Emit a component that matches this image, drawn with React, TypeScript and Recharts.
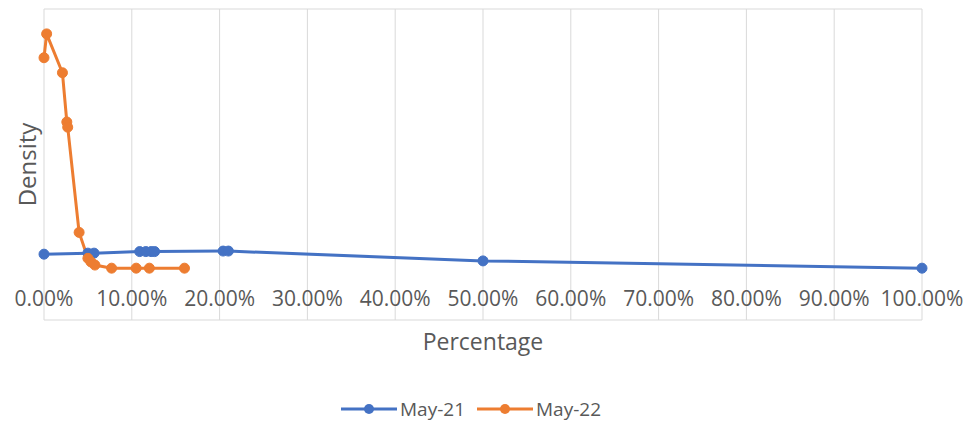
import { CartesianGrid, Label, Legend, Line, LineChart, XAxis, YAxis } from 'recharts';

const BLUE = '#4472C4';
const ORANGE = '#ED7D31';
const TEXT = '#595959';
const GRID = '#D9D9D9';
const FONT = '"Open Sans", "Noto Sans", sans-serif';

// x tick positions (share of 1) and y grid steps
const xTicks = [0, 0.1, 0.2, 0.3, 0.4, 0.5, 0.6, 0.7, 0.8, 0.9, 1];
const yTicks = [-10, 0, 10, 20, 30, 40, 50];

// May-21 series
const may21Pct = [0, 0.05, 0.057, 0.109, 0.116, 0.122, 0.126, 0.204, 0.21, 0.5, 1];
const may21Density = [2.7, 2.9, 2.9, 3.2, 3.2, 3.2, 3.2, 3.3, 3.3, 1.4, 0];

// May-22 series
const may22Pct = [0, 0.003, 0.021, 0.026, 0.027, 0.04, 0.05, 0.0535, 0.058, 0.077, 0.105, 0.12, 0.16];
const may22Density = [40.6, 45.2, 37.7, 28.2, 27.2, 6.9, 1.9, 1.2, 0.6, 0, 0, 0, 0];

const may21 = may21Pct.map((x, i) => ({ x, y: may21Density[i] }));
const may22 = may22Pct.map((x, i) => ({ x, y: may22Density[i] }));

const PctTick = (props: any) => {
  const { x, y, payload } = props;
  return (
    <text x={x} y={y} dy={-22} textAnchor="middle" fill={TEXT} fontSize={21} fontFamily={FONT}>
      {(payload.value * 100).toFixed(2)}%
    </text>
  );
};

const LegendContent = (props: any) => {
  const { payload = [] } = props;
  return (
    <div style={{ display: 'flex', justifyContent: 'center', alignItems: 'center', height: 30, paddingLeft: 20 }}>
      {payload.map((p: any) => (
        <div key={p.value} style={{ display: 'flex', alignItems: 'center', margin: '0 6px' }}>
          <svg width={56} height={20}>
            <line x1={0} y1={10} x2={56} y2={10} stroke={p.color} strokeWidth={3} />
            <circle cx={28} cy={10} r={5} fill={p.color} />
          </svg>
          <span style={{ marginLeft: 3, color: TEXT, fontSize: 19, fontFamily: FONT }}>{p.value}</span>
        </div>
      ))}
    </div>
  );
};

export default function App() {
  return (
    <div style={{ width: 966, height: 426, background: '#fff' }}>
      <style>{'body{margin:0}'}</style>
      <LineChart width={966} height={426} margin={{ top: 9, right: 44, bottom: 2, left: 0 }}>
        <CartesianGrid stroke={GRID} strokeWidth={1} />
        <XAxis
          dataKey="x"
          type="number"
          domain={[0, 1]}
          ticks={xTicks}
          interval={0}
          allowDuplicatedCategory={false}
          axisLine={false}
          tickLine={false}
          height={74}
          tick={<PctTick />}
        >
          <Label
            value="Percentage"
            position="insideTop"
            offset={14}
            fill={TEXT}
            fontSize={23}
            fontFamily={FONT}
          />
        </XAxis>
        <YAxis
          type="number"
          domain={[-10, 50]}
          ticks={yTicks}
          width={44}
          tick={false}
          axisLine={false}
          tickLine={false}
          label={{
            value: 'Density',
            angle: -90,
            position: 'insideLeft',
            offset: 27,
            fill: TEXT,
            fontSize: 24,
            fontFamily: FONT,
            style: { textAnchor: 'middle' },
          }}
        />
        <Legend verticalAlign="bottom" content={<LegendContent />} />
        <Line
          data={may21}
          dataKey="y"
          name="May-21"
          type="linear"
          stroke={BLUE}
          strokeWidth={3}
          dot={{ r: 5, fill: BLUE, stroke: BLUE, strokeWidth: 1 }}
          isAnimationActive={false}
        />
        <Line
          data={may22}
          dataKey="y"
          name="May-22"
          type="linear"
          stroke={ORANGE}
          strokeWidth={3}
          dot={{ r: 5, fill: ORANGE, stroke: ORANGE, strokeWidth: 1 }}
          isAnimationActive={false}
        />
      </LineChart>
    </div>
  );
}
